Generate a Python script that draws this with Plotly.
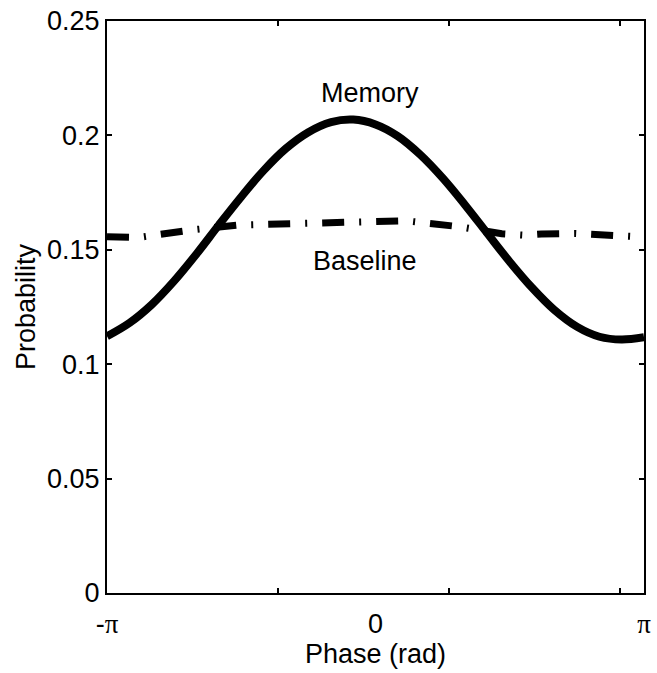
import plotly.graph_objects as go

# Memory curve (phase in rad, probability)
memory_phase = [-3.1416, -2.88, -2.62, -2.36, -2.09, -1.83, -1.57, -1.31, -1.05,
                -0.79, -0.52, -0.26, 0.0, 0.26, 0.52, 0.79, 1.05, 1.31, 1.57,
                1.83, 2.09, 2.36, 2.62, 2.88, 3.1416]
memory_prob = [0.1122, 0.1180, 0.1260, 0.1362, 0.1484, 0.1610, 0.1732, 0.1846, 0.1942,
               0.2013, 0.2058, 0.2069, 0.2048, 0.1997, 0.1917, 0.1812, 0.1695, 0.1571,
               0.1448, 0.1335, 0.1238, 0.1163, 0.1120, 0.1108, 0.1118]

# Baseline curve
baseline_phase = [-3.1416, -2.772, -2.148, -1.605, -1.282, -0.681, -0.104, 0.346,
                  0.958, 1.478, 1.744, 1.940, 2.345, 2.529, 3.084, 3.1416]
baseline_prob = [0.1557, 0.1554, 0.1587, 0.1608, 0.1611, 0.1619, 0.1624, 0.1627,
                 0.1602, 0.1570, 0.1564, 0.1569, 0.1571, 0.1569, 0.1557, 0.1556]

# Axis ticks
x_mark_vals = [-1.1416, 0.8584, 2.8584]
x_label_vals = [-3.1416, 0.0, 3.1416]
x_label_text = ["-<span style='font-family:Liberation Serif'>π</span>", "0",
                "<span style='font-family:Liberation Serif'>π</span>"]
y_tick_vals = [0, 0.05, 0.1, 0.15, 0.2, 0.25]
y_tick_text = ["0", "0.05", "0.1", "0.15", "0.2", "0.25"]

FONT = "Liberation Sans, Arial, sans-serif"
FS = 27

fig = go.Figure()
fig.add_trace(go.Scatter(x=memory_phase, y=memory_prob, mode="lines",
                         line=dict(color="black", width=8, shape="spline", smoothing=1.0),
                         showlegend=False, hoverinfo="skip"))
fig.add_trace(go.Scatter(x=baseline_phase, y=baseline_prob, mode="lines",
                         line=dict(color="black", width=7, dash="22px,15px,2px,15px"),
                         showlegend=False, hoverinfo="skip"))
# dummy trace for label axis
fig.add_trace(go.Scatter(x=[0], y=[0.1], xaxis="x2", mode="lines",
                         line=dict(width=0), showlegend=False, hoverinfo="skip", opacity=0))

fig.add_annotation(x=-0.06, y=0.2186, text="Memory", showarrow=False,
                   font=dict(family=FONT, size=FS, color="black"))
fig.add_annotation(x=-0.127, y=0.1450, text="Baseline", showarrow=False,
                   font=dict(family=FONT, size=FS, color="black"))

fig.update_layout(
    width=657, height=673,
    margin=dict(l=107, r=6, t=20, b=80),
    paper_bgcolor="white", plot_bgcolor="white",
    font=dict(family=FONT, size=FS, color="black"),
    xaxis=dict(range=[-3.1416, 3.1416], tickvals=x_mark_vals, showticklabels=False,
               ticks="inside", ticklen=5, tickwidth=1.5, tickcolor="black",
               showline=True, linewidth=2, linecolor="black", mirror="ticks",
               showgrid=False, zeroline=False),
    xaxis2=dict(overlaying="x", matches="x", anchor="y", side="bottom",
                range=[-3.1416, 3.1416],
                tickvals=x_label_vals, ticktext=x_label_text, ticks="",
                ticklabelstandoff=12,
                showline=False, showgrid=False, zeroline=False,
                tickfont=dict(family=FONT, size=FS, color="black"),
                title=dict(text="Phase (rad)", standoff=6,
                           font=dict(family=FONT, size=FS, color="black"))),
    yaxis=dict(range=[0, 0.25], tickvals=y_tick_vals, ticktext=y_tick_text,
               ticks="inside", ticklen=5, tickwidth=1.5, tickcolor="black",
               showline=True, linewidth=2, linecolor="black", mirror="ticks",
               showgrid=False, zeroline=False,
               tickfont=dict(family=FONT, size=FS, color="black"),
               title=dict(text="Probability", standoff=4,
                          font=dict(family=FONT, size=FS, color="black"))),
)

fig.write_html("out.html")
